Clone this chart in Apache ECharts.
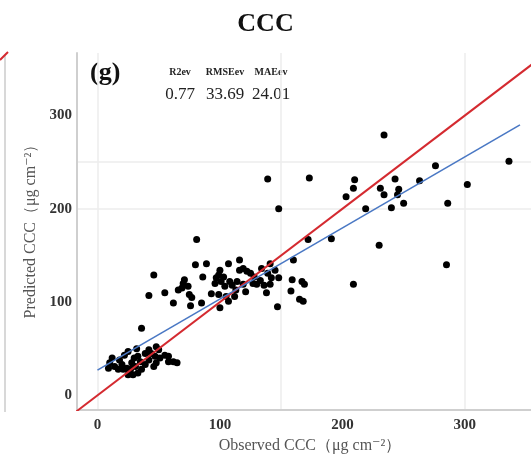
<!DOCTYPE html>
<html>
<head>
<meta charset="utf-8">
<script src="https://cdn.jsdelivr.net/npm/echarts@6/dist/echarts.min.js"></script>
<style>html,body{margin:0;padding:0;background:#fff;}#c{width:531px;height:459px;}</style>
</head>
<body>
<div id="c"></div>
<script>
// ---- data ----
const observed = [234,336,276,139,173,210,209,243,231,246,234,245,263,302,203,219,240,250,286,148,81,172,191,230,285,209,160,
  46,42,55,62,66,69,74,70,71,75,77,76,80,89,86,85,93,100,99,97,103,101,107,116,116,108,114,104,99,105,100,112,107,119,122,125,127,130,134,141,145,142,148,141,138,121,147,159,167,169,158,165,168,113,110,96,119,128,133,139,136,
  36,12,10,14,18,22,25,32,33,39,42,28,24,21,17,25,29,33,36,46,48,51,55,47,58,65,44,48,42,9,27,31,39,50,58,62,20,30,26,35];
const predicted = [279,251,246,232,233,231,222,232,222,221,215,215,230,226,213,200,201,206,206,200,167,167,168,161,140,119,145,
  129,107,110,99,113,115,117,120,124,108,105,96,140,141,127,99,109,134,129,126,127,122,141,145,134,122,122,117,108,106,94,106,101,119,133,131,120,119,136,141,134,126,126,119,110,111,95,124,122,119,112,103,101,113,118,120,136,127,123,131,118,
  72,40,35,31,38,43,47,50,42,45,38,35,29,28,28,22,22,24,28,31,35,40,43,42,36,35,45,52,49,29,28,31,33,49,42,36,33,40,26,36];
const oneToOne = [[-30,-30],[400,400]];
const fitLine = [[0,27],[345,290]];
const xTicks = [0,100,200,300];
const yTicks = [0,100,200,300];
const xGrid = [0,150,300];
const yGrid = [200,250];
const statLabels = ['R2ev','RMSEev','MAEev'];
const statValues = ['0.77','33.69','24.01'];
const titleText = 'CCC';
const panelTag = '(g)';
const xName = 'Observed CCC（μg cm⁻²）';
const yName = 'Predicted CCC（μg cm⁻²）';

const points = observed.map((v,i)=>[v,predicted[i]]);
const serif = '"Liberation Serif","DejaVu Serif",serif';
const statX = [180, 225, 271];

const chart = echarts.init(document.getElementById('c'), null, {renderer:'canvas'});
chart.setOption({
  animation:false,
  backgroundColor:'#fff',
  title:{text:titleText,left:'center',top:6,textStyle:{fontFamily:serif,fontSize:26,fontWeight:'bold',color:'#111'}},
  grid:{left:77,right:0,top:53,bottom:41},
  xAxis:{type:'value',min:-16.7,max:354,
    axisLine:{show:true,onZero:false,lineStyle:{color:'#cfcfcf',width:2}},
    axisTick:{show:false},
    splitLine:{show:false},
    axisLabel:{customValues:xTicks,fontFamily:serif,fontWeight:'bold',fontSize:15,color:'#333',margin:8},
    name:xName,nameLocation:'middle',nameGap:28,
    nameTextStyle:{fontFamily:serif,fontSize:16,color:'#555',padding:[0,0,0,12]}},
  yAxis:{type:'value',min:-15.7,max:367,
    axisLine:{show:true,onZero:false,lineStyle:{color:'#cfcfcf',width:2}},
    axisTick:{show:false},
    splitLine:{show:false},
    axisLabel:{customValues:yTicks,fontFamily:serif,fontWeight:'bold',fontSize:15,color:'#333',margin:5},
    name:yName,nameLocation:'middle',nameGap:33,
    nameTextStyle:{fontFamily:serif,fontSize:16,color:'#555',padding:[0,0,0,8]}},
  series:[
    {type:'line',data:[],silent:true,z:0,zlevel:0,
      markLine:{silent:true,z:0,symbol:'none',label:{show:false},lineStyle:{color:'#ececec',width:1.5,type:'solid'},
        data:[...xGrid.map(v=>({xAxis:v})),...yGrid.map(v=>({yAxis:v}))]}},
    {type:'scatter',data:points,symbolSize:7,itemStyle:{color:'#000',opacity:1},z:10},
    {type:'line',data:oneToOne,showSymbol:false,lineStyle:{color:'#d42a30',width:2},z:11,clip:true},
    {type:'line',data:fitLine,showSymbol:false,lineStyle:{color:'#4a78c4',width:1.6},z:12,clip:true}
  ],
  graphic:[
    {type:'text',left:90,top:60,style:{text:panelTag,font:'bold 26px '+serif,fill:'#111'}},
    ...statLabels.map((t,i)=>({type:'text',x:statX[i],y:72,style:{text:t,font:'bold 10px '+serif,fill:'#222',textAlign:'center',textVerticalAlign:'middle'}})),
    ...statValues.map((t,i)=>({type:'text',x:statX[i],y:95,style:{text:t,font:'17px '+serif,fill:'#222',textAlign:'center',textVerticalAlign:'middle'}})),
    {type:'line',shape:{x1:5,y1:55,x2:5,y2:412},style:{stroke:'#d8d8d8',lineWidth:2}},
    {type:'line',shape:{x1:0,y1:60,x2:8,y2:52},style:{stroke:'#d42a30',lineWidth:2}}
  ]
});
</script>
</body>
</html>
